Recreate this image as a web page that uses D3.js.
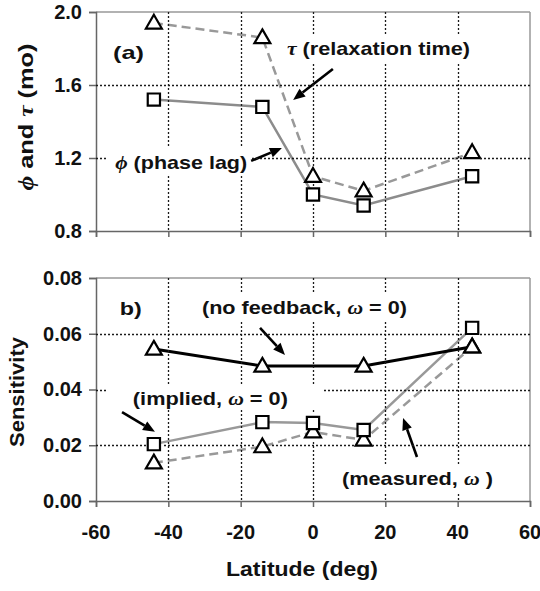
<!DOCTYPE html>
<html><head><meta charset="utf-8">
<script src="https://cdn.jsdelivr.net/npm/d3@7"></script>
<style>
body{margin:0;background:#fff;}
svg{display:block;font-family:"Liberation Sans",Arial,sans-serif;font-weight:bold;}
</style></head>
<body><svg id="c" width="540" height="591"></svg>
<script>
// ---- data ----
const latitudes = [-44, -14, 0, 14, 44];
const tauValues = [1.94, 1.86, 1.10, 1.02, 1.23];          // relaxation time (triangles, dashed)
const phiValues = [1.52, 1.48, 1.00, 0.94, 1.10];          // phase lag (squares, solid)
const noFeedbackLat = [-44, -14, 14, 44];
const noFeedbackValues = [0.0545, 0.0484, 0.0484, 0.0553]; // black solid, triangles
const impliedValues = [0.0204, 0.0283, 0.0280, 0.0255, 0.0621];  // grey solid, squares
const measuredValues = [0.0137, 0.0195, 0.0248, 0.0219, 0.0553]; // grey dashed, triangles
const xTicks = [-60, -40, -20, 0, 20, 40, 60];
const topYTicks = [0.8, 1.2, 1.6, 2.0];
const botYTicks = [0.00, 0.02, 0.04, 0.06, 0.08];
const topGridY = [1.2, 1.6];
const botGridY = [0.02, 0.04, 0.06];

const svg = d3.select("#c");
const X0 = 96, X1 = 530;
const x = d3.scaleLinear().domain([-60, 60]).range([X0, X1]);
const yTop = d3.scaleLinear().domain([0.8, 2.0]).range([231, 12]);
const yBot = d3.scaleLinear().domain([0, 0.08]).range([501, 278]);
const SERIF = "Liberation Serif, Times New Roman, serif";

// ---- frames and axes ----
function panel(y, yTicks, fmt) {
  const g = svg.append("g");
  const b = y.range()[0], t = y.range()[1];
  g.append("line").attr("x1", X0).attr("x2", X1).attr("y1", t).attr("y2", t).attr("stroke", "#999").attr("stroke-width", 1.5);
  g.append("line").attr("x1", X1).attr("x2", X1).attr("y1", t).attr("y2", b).attr("stroke", "#999").attr("stroke-width", 1.5);
  const ya = g.append("g").attr("transform", `translate(${X0},0)`)
    .call(d3.axisLeft(y).tickValues(yTicks).tickFormat(fmt).tickSize(7).tickPadding(7));
  ya.select(".domain").attr("stroke", "#666").attr("stroke-width", 1.5);
  ya.selectAll(".tick line").attr("stroke", "#666").attr("stroke-width", 1.5);
  ya.selectAll("text").attr("font-size", 20).attr("font-family", "Liberation Sans, Arial, sans-serif")
    .attr("font-weight", "bold").attr("fill", "#111");
  const xa = g.append("g").attr("transform", `translate(0,${b})`)
    .call(d3.axisBottom(x).tickValues(xTicks).tickSize(6).tickFormat(() => ""));
  xa.select(".domain").attr("stroke", "#666").attr("stroke-width", 1.5);
  xa.selectAll(".tick line").attr("stroke", "#666").attr("stroke-width", 1.5);
}
panel(yTop, topYTicks, d3.format(".1f"));
panel(yBot, botYTicks, d3.format(".2f"));

// x tick labels (bottom panel)
svg.append("g").selectAll("text").data(xTicks).join("text")
  .attr("x", d => x(d)).attr("y", 539).attr("text-anchor", "middle")
  .attr("font-size", 20).attr("fill", "#111").text(d => d);

// axis titles
svg.append("text").attr("x", 302).attr("y", 576).attr("text-anchor", "middle")
  .attr("font-size", 21).attr("fill", "#111")
  .attr("textLength", 152).attr("lengthAdjust", "spacingAndGlyphs").text("Latitude (deg)");
svg.append("text").attr("transform", "translate(24,392) rotate(-90)").attr("text-anchor", "middle")
  .attr("font-size", 21).attr("fill", "#111")
  .attr("textLength", 110).attr("lengthAdjust", "spacingAndGlyphs").text("Sensitivity");
const yt = svg.append("text").attr("transform", "translate(33,117) rotate(-90)").attr("text-anchor", "middle")
  .attr("font-size", 21).attr("fill", "#111")
  .attr("textLength", 147).attr("lengthAdjust", "spacingAndGlyphs");
yt.append("tspan").attr("font-family", SERIF).attr("font-style", "italic").text("\u03D5");
yt.append("tspan").text(" and ");
yt.append("tspan").attr("font-family", SERIF).attr("font-style", "italic").text("\u03C4");
yt.append("tspan").text(" (mo)");

// ---- annotation labels (their boxes keep the grid away) ----
const ann = svg.append("g");
const holes = [];
function label(xs, ys, parts, len, pad) {
  const t = ann.append("text").attr("x", xs).attr("y", ys).attr("dy", "0.35em")
    .attr("font-size", 19).attr("fill", "#111")
    .attr("textLength", len).attr("lengthAdjust", "spacingAndGlyphs");
  parts.forEach(p => {
    const ts = t.append("tspan").text(p.t);
    if (p.greek) ts.attr("font-family", SERIF).attr("font-style", "italic");
  });
  const bb = t.node().getBBox();
  holes.push([bb.x - pad[0], bb.y - pad[2], bb.x + bb.width + pad[1], bb.y + bb.height + pad[3]]);
}
label(x(-55.3), yTop(1.78), [{t: "(a)"}], 31, [2, 2, 2, 2]);
label(x(-7.2), yTop(1.80), [{t: "\u03C4", greek: true}, {t: "  (relaxation time)"}], 183, [2, 10, 5, 3]);
label(x(-54.7), yTop(1.178), [{t: "\u03D5", greek: true}, {t: "  (phase lag)"}], 132, [8, 3, 5, 1]);
label(x(-53.4), yBot(0.0692), [{t: "b)"}], 22, [2, 2, 2, 2]);
label(x(-30.7), yBot(0.0696), [{t: "(no feedback, "}, {t: "\u03C9", greek: true}, {t: " = 0)"}], 205, [7, 8, 3, 3]);
label(x(-49.8), yBot(0.0370), [{t: "(implied, "}, {t: "\u03C9", greek: true}, {t: " = 0)"}], 155, [25, 37, 3, 2]);
label(x(8.0), yBot(0.00825), [{t: "(measured, "}, {t: "\u03C9", greek: true}, {t: " )"}], 151, [4, 4, 3, 5]);

// ---- series ----
const markerCentres = [];
function series(g, y, xs, ys, color, width, dash) {
  const p = g.append("path").datum(xs.map((d, i) => [d, ys[i]]))
    .attr("fill", "none").attr("stroke", color).attr("stroke-width", width)
    .attr("d", d3.line().x(d => x(d[0])).y(d => y(d[1])));
  if (dash) p.attr("stroke-dasharray", dash);
}
function markers(g, y, xs, ys, shape) {
  const sym = shape === "sq"
    ? d3.symbol().type(d3.symbolSquare).size(150)
    : d3.symbol().type(d3.symbolTriangle).size(110);
  xs.forEach((d, i) => markerCentres.push([x(d), y(ys[i])]));
  g.append("g").selectAll("path").data(xs.map((d, i) => [d, ys[i]])).join("path")
    .attr("transform", d => `translate(${x(d[0])},${y(d[1]) + (shape === "sq" ? 0 : 1)})`)
    .attr("d", sym).attr("fill", "#fff").attr("stroke", "#000").attr("stroke-width", 2.2);
}
const sTop = svg.append("g");
series(sTop, yTop, latitudes, tauValues, "#999", 2.5, "9,5");
series(sTop, yTop, latitudes, phiValues, "#8c8c8c", 2.5);
markers(sTop, yTop, latitudes, tauValues, "tri");
markers(sTop, yTop, latitudes, phiValues, "sq");

const sBot = svg.append("g");
series(sBot, yBot, latitudes, measuredValues, "#999", 2.5, "9,5");
series(sBot, yBot, latitudes, impliedValues, "#999", 2.5);
series(sBot, yBot, noFeedbackLat, noFeedbackValues, "#000", 3);
markers(sBot, yBot, latitudes, measuredValues, "tri");
markers(sBot, yBot, noFeedbackLat, noFeedbackValues, "tri");
markers(sBot, yBot, latitudes, impliedValues, "sq");

// ---- arrows (filled heads drawn as polygons) ----
function arrow(y, x1, y1, x2, y2) {
  const ax = x(x1), ay = y(y1), bx = x(x2), by = y(y2);
  const ang = Math.atan2(by - ay, bx - ax), L = 12, W = 5;
  const hx = bx - L * Math.cos(ang), hy = by - L * Math.sin(ang);
  svg.append("line").attr("x1", ax).attr("y1", ay).attr("x2", hx).attr("y2", hy)
    .attr("stroke", "#000").attr("stroke-width", 2.6);
  svg.append("path").attr("fill", "#000").attr("d",
    `M${bx},${by}L${hx - W * Math.sin(ang)},${hy + W * Math.cos(ang)}L${hx + W * Math.sin(ang)},${hy - W * Math.cos(ang)}Z`);
}
arrow(yTop, 5.5, 1.688, -5.5, 1.518);
arrow(yTop, -17.1, 1.184, -8.6, 1.255);
arrow(yBot, -14.65, 0.0621, -7.74, 0.0524);
arrow(yBot, -52.8, 0.0319, -43.7, 0.0248);
arrow(yBot, 28.75, 0.0158, 24.9, 0.0298);

// ---- dotted grid, drawn last, skipping label boxes and markers ----
function blocked(px, py) {
  if (holes.some(h => px >= h[0] && px <= h[2] && py >= h[1] && py <= h[3])) return true;
  return markerCentres.some(m => Math.abs(px - m[0]) < 8 && Math.abs(py - m[1]) < 8);
}
function dottedPath(x1, y1, x2, y2) {
  const len = Math.hypot(x2 - x1, y2 - y1), n = Math.floor(len / 4);
  const ux = (x2 - x1) / len, uy = (y2 - y1) / len;
  let d = "";
  for (let i = 0; i <= n; i++) {
    const sx = x1 + ux * i * 4, sy = y1 + uy * i * 4;
    if (blocked(sx + ux, sy + uy)) continue;
    d += `M${sx},${sy}L${sx + ux * 2},${sy + uy * 2}`;
  }
  return d;
}
const gridG = svg.append("g");
[[yTop, topGridY], [yBot, botGridY]].forEach(([y, gy]) => {
  const b = y.range()[0], t = y.range()[1];
  xTicks.slice(1, -1).forEach(d => {
    const px = Math.round(x(d)) + 0.5;
    gridG.append("path").attr("d", dottedPath(px, t, px, b))
      .attr("fill", "none").attr("stroke", "#1a1a1a").attr("stroke-width", 1.3);
  });
  gy.forEach(d => {
    const py = Math.round(y(d)) + 0.5;
    gridG.append("path").attr("d", dottedPath(X0, py, X1, py))
      .attr("fill", "none").attr("stroke", "#1a1a1a").attr("stroke-width", 1.3);
  });
});
</script></body></html>
